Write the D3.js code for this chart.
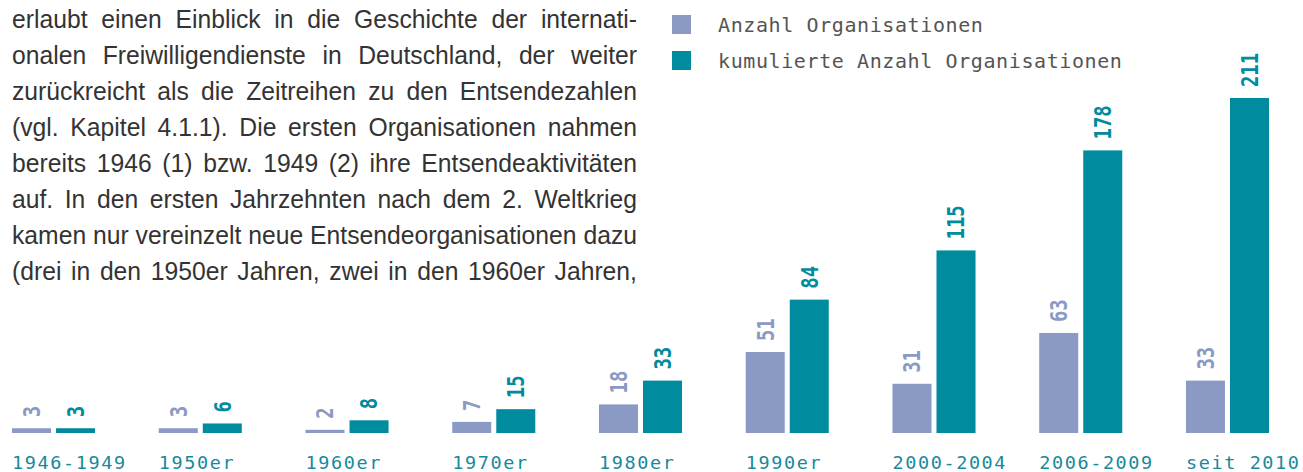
<!DOCTYPE html>
<html>
<head>
<meta charset="utf-8">
<script src="https://cdn.jsdelivr.net/npm/d3@7"></script>
<style>
  html, body { margin: 0; padding: 0; background: #fff; }
  svg { display: block; }
</style>
</head>
<body>
<div id="chart"></div>
<script>
const categories = ["1946-1949", "1950er", "1960er", "1970er", "1980er", "1990er", "2000-2004", "2006-2009", "seit 2010"];
const anzahl = [3, 3, 2, 7, 18, 51, 31, 63, 33];
const kumuliert = [3, 6, 8, 15, 33, 84, 115, 178, 211];
const seriesNames = ["Anzahl Organisationen", "kumulierte Anzahl Organisationen"];
const textLines = [
  "erlaubt einen Einblick in die Geschichte der internati-",
  "onalen Freiwilligendienste in Deutschland, der weiter",
  "zurückreicht als die Zeitreihen zu den Entsendezahlen",
  "(vgl. Kapitel 4.1.1). Die ersten Organisationen nahmen",
  "bereits 1946 (1) bzw. 1949 (2) ihre Entsendeaktivitäten",
  "auf. In den ersten Jahrzehnten nach dem 2. Weltkrieg",
  "kamen nur vereinzelt neue Entsendeorganisationen dazu",
  "(drei in den 1950er Jahren, zwei in den 1960er Jahren,"
];

const width = 1303, height = 472;
const colors = ["#8a9ac4", "#008b9e"];
const rows = categories.map((c, i) => ({ cat: c, values: [anzahl[i], kumuliert[i]] }));

const svg = d3.select("#chart").append("svg")
  .attr("width", width).attr("height", height);

// paragraph, justified word by word
const para = svg.append("g").attr("class", "para");
const textLeft = 12, textWidth = 625, lineTop = 27.5, lineStep = 36;
const paraFont = { family: "'Liberation Sans', Arial, sans-serif", size: 25 };

function measureWords(words) {
  const tmp = para.append("g");
  const w = words.map((wd) => {
    const t = tmp.append("text").style("font-family", paraFont.family)
      .style("font-size", paraFont.size + "px").text(wd);
    return t.node().getComputedTextLength();
  });
  tmp.remove();
  return w;
}
const spaceW = paraFont.size * 0.278;
let maxNatural = 0;
const lineWords = textLines.map((l) => {
  const words = l.split(" ");
  const widths = measureWords(words);
  const nat = d3.sum(widths) + spaceW * (words.length - 1);
  maxNatural = Math.max(maxNatural, nat);
  return { words, widths };
});
const squeeze = Math.min(1, textWidth / maxNatural);
lineWords.forEach((ln, li) => {
  const g = para.append("g")
    .attr("transform", "translate(" + textLeft + "," + (lineTop + li * lineStep) + ") scale(" + squeeze + ",1)");
  const avail = textWidth / squeeze;
  const gap = (avail - d3.sum(ln.widths)) / (ln.words.length - 1);
  let x = 0;
  ln.words.forEach((wd, wi) => {
    g.append("text").attr("x", x).attr("y", 0)
      .style("font-family", paraFont.family).style("font-size", paraFont.size + "px")
      .attr("fill", "#333").text(wd);
    x += ln.widths[wi] + gap;
  });
});

// scales
const x0 = d3.scaleBand().domain(categories).range([12, 1269]).paddingInner(0.434).paddingOuter(0);
const x1 = d3.scaleBand().domain([0, 1]).range([0, x0.bandwidth()]).paddingInner(0.114);
const y = d3.scaleLinear().domain([0, d3.max(kumuliert)]).range([433, 98]);

const groups = svg.selectAll(".grp").data(rows).enter().append("g")
  .attr("class", "grp")
  .attr("transform", (d) => "translate(" + x0(d.cat) + ",0)");

groups.selectAll("rect").data((d) => d.values).enter().append("rect")
  .attr("x", (d, i) => x1(i))
  .attr("y", (d) => y(d))
  .attr("width", x1.bandwidth())
  .attr("height", (d) => y(0) - y(d))
  .attr("fill", (d, i) => colors[i]);

groups.selectAll(".val").data((d) => d.values).enter().append("text")
  .attr("class", "val")
  .attr("transform", (d, i) => "translate(" + (x1(i) + x1.bandwidth() / 2) + "," + (y(d) - 11) + ") rotate(-90) scale(0.82,1)")
  .attr("dy", "0.36em")
  .style("font-family", "'DejaVu Sans Mono', monospace")
  .style("font-weight", "bold")
  .style("font-size", "23px")
  .attr("fill", (d, i) => colors[i])
  .text((d) => d);

// category labels
svg.selectAll(".cat").data(categories).enter().append("text")
  .attr("class", "cat")
  .attr("x", (d) => x0(d))
  .attr("y", 469)
  .style("font-family", "'DejaVu Sans Mono', monospace")
  .style("font-size", "18.5px")
  .style("letter-spacing", "1.6px")
  .attr("fill", "#17899b")
  .text((d) => d);

// legend
const legend = svg.selectAll(".legend").data(seriesNames).enter().append("g")
  .attr("class", "legend")
  .attr("transform", (d, i) => "translate(672," + (15 + i * 36) + ")");
legend.append("rect").attr("width", 19).attr("height", 19)
  .attr("fill", (d, i) => colors[i]);
legend.append("text").attr("x", 46).attr("y", 16.5)
  .style("font-family", "'DejaVu Sans Mono', monospace")
  .style("font-size", "20px")
  .style("letter-spacing", "0.6px")
  .attr("fill", "#555")
  .text((d) => d);
</script>
</body>
</html>
